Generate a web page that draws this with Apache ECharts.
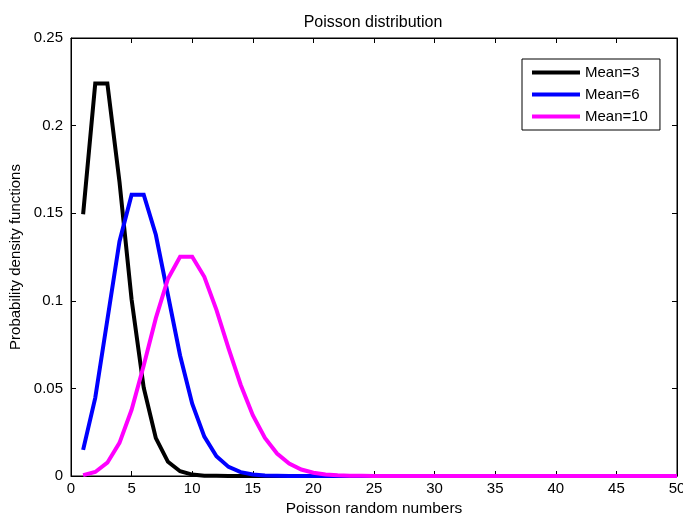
<!DOCTYPE html>
<html>
<head>
<meta charset="utf-8">
<script src="https://cdn.jsdelivr.net/npm/echarts@6/dist/echarts.min.js"></script>
<style>html,body{margin:0;padding:0;background:#fff}#c{width:683px;height:514px}</style>
</head>
<body>
<div id="c"></div>
<script>
const xValues = [1,2,3,4,5,6,7,8,9,10,11,12,13,14,15,16,17,18,19,20,21,22,23,24,25,26,27,28,29,30,31,32,33,34,35,36,37,38,39,40,41,42,43,44,45,46,47,48,49,50];
const mean3 = [0.1494,0.2240,0.2240,0.1680,0.1008,0.0504,0.0216,0.0081,0.0027,0.0008,0.0002,0.0001,0,0,0,0,0,0,0,0,0,0,0,0,0,0,0,0,0,0,0,0,0,0,0,0,0,0,0,0,0,0,0,0,0,0,0,0,0,0];
const mean6 = [0.0149,0.0446,0.0892,0.1339,0.1606,0.1606,0.1377,0.1033,0.0688,0.0413,0.0225,0.0113,0.0052,0.0022,0.0009,0.0003,0.0001,0,0,0,0,0,0,0,0,0,0,0,0,0,0,0,0,0,0,0,0,0,0,0,0,0,0,0,0,0,0,0,0,0];
const mean10 = [0.0005,0.0023,0.0076,0.0189,0.0378,0.0631,0.0901,0.1126,0.1251,0.1251,0.1137,0.0948,0.0729,0.0521,0.0347,0.0217,0.0128,0.0071,0.0037,0.0019,0.0009,0.0004,0.0002,0.0001,0,0,0,0,0,0,0,0,0,0,0,0,0,0,0,0,0,0,0,0,0,0,0,0,0,0];
const seriesNames = ['Mean=3','Mean=6','Mean=10'];
const seriesColors = ['#000000','#0000ff','#ff00ff'];
const titleText = 'Poisson distribution';
const xName = 'Poisson random numbers';
const yName = 'Probability density functions';

const font = '"Liberation Sans", Arial, sans-serif';
const pairs = arr => xValues.map((x, i) => [x, arr[i]]);
const allData = [mean3, mean6, mean10];

const chart = echarts.init(document.getElementById('c'), null, {renderer: 'canvas'});
const baseAxis = {
  axisLine: {show: true, onZero: false, lineStyle: {color: '#000', width: 1}},
  axisTick: {show: true, inside: true, length: 5, lineStyle: {color: '#000'}},
  splitLine: {show: false},
  axisLabel: {color: '#000', fontFamily: font, fontSize: 15}
};
chart.setOption({
  animation: false,
  backgroundColor: '#fff',
  title: {
    text: titleText, left: 368, top: 10, textAlign: 'center',
    textStyle: {fontFamily: font, fontSize: 16, fontWeight: 'normal', color: '#000'}
  },
  grid: {left: 71, top: 38, right: 6, bottom: 38, show: true, borderColor: '#000', borderWidth: 1,
         backgroundColor: '#fff', containLabel: false, outerBoundsMode: 'none'},
  legend: {
    orient: 'vertical', left: 522, top: 59,
    padding: [6, 12, 6, 10], itemGap: 7,
    itemWidth: 48, itemHeight: 4, icon: 'rect',
    backgroundColor: '#fff', borderColor: '#000', borderWidth: 1,
    textStyle: {fontFamily: font, fontSize: 15, color: '#000'},
    data: seriesNames
  },
  xAxis: [
    Object.assign({}, baseAxis, {
      type: 'value', min: 0, max: 50, interval: 5, position: 'bottom',
      name: xName, nameLocation: 'middle', nameGap: 23,
      nameTextStyle: {fontFamily: font, fontSize: 15.5, color: '#000'},
      axisLabel: {color: '#000', fontFamily: font, fontSize: 15, margin: 5}
    }),
    Object.assign({}, baseAxis, {
      type: 'value', min: 0, max: 50, interval: 5, position: 'top',
      axisLabel: {show: false}
    })
  ],
  yAxis: [
    Object.assign({}, baseAxis, {
      type: 'value', min: 0, max: 0.25, interval: 0.05, position: 'left',
      name: yName, nameLocation: 'middle', nameGap: 46,
      nameTextStyle: {fontFamily: font, fontSize: 15, color: '#000'},
      axisLabel: {color: '#000', fontFamily: font, fontSize: 15, margin: 8}
    }),
    Object.assign({}, baseAxis, {
      type: 'value', min: 0, max: 0.25, interval: 0.05, position: 'right',
      axisLabel: {show: false}
    })
  ],
  series: allData.map((arr, i) => ({
    name: seriesNames[i], type: 'line', xAxisIndex: 0, yAxisIndex: 0,
    data: pairs(arr), showSymbol: false, symbol: 'none',
    color: seriesColors[i],
    lineStyle: {color: seriesColors[i], width: 4, join: 'miter'},
    itemStyle: {color: seriesColors[i]}
  }))
});
</script>
</body>
</html>
